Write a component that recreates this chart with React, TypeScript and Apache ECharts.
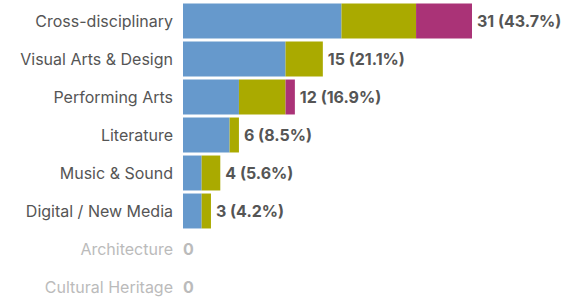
import React, { useEffect, useRef } from "react";
import * as echarts from "echarts";

const categories = [
  "Cross-disciplinary",
  "Visual Arts & Design",
  "Performing Arts",
  "Literature",
  "Music & Sound",
  "Digital / New Media",
  "Architecture",
  "Cultural Heritage",
];
const blueValues = [17, 11, 6, 5, 2, 2, 0, 0];
const oliveValues = [8, 4, 5, 1, 2, 1, 0, 0];
const magentaValues = [6, 0, 1, 0, 0, 0, 0, 0];

const colors = ["#6699CC", "#AAAA00", "#AA3377"];

export default function App() {
  const ref = useRef<HTMLDivElement>(null);
  useEffect(() => {
    if (!ref.current) return;
    const chart = echarts.init(ref.current, null, { renderer: "svg" });
    const totals = categories.map((_, i) => blueValues[i] + oliveValues[i] + magentaValues[i]);
    const grand = totals.reduce((a, b) => a + b, 0);
    const maxTotal = Math.max(...totals);
    const font = "Inter, 'Noto Sans', sans-serif";
    const mk = (name: string, data: number[], color: string) => ({
      name,
      type: "bar",
      stack: "s",
      data,
      itemStyle: { color },
      barCategoryGap: "8%",
    });
    chart.setOption({
      animation: false,
      grid: { left: 183, right: 95, top: 2, bottom: 0, containLabel: false },
      xAxis: {
        type: "value",
        min: 0,
        max: maxTotal,
        show: false,
      },
      yAxis: {
        type: "category",
        data: categories,
        inverse: true,
        axisLine: { show: false },
        axisTick: { show: false },
        axisLabel: {
          margin: 10,
          fontSize: 16,
          fontFamily: font,
          color: (_v: string, i: number) => (totals[i] === 0 ? "#BBBBBB" : "#555555"),
        },
      },
      series: [
        mk("a", blueValues, colors[0]),
        mk("b", oliveValues, colors[1]),
        mk("c", magentaValues, colors[2]),
        {
          name: "total",
          type: "bar",
          stack: "s",
          data: totals.map((t) => ({
            value: 0,
            label: { color: t === 0 ? "#BBBBBB" : "#555555", distance: t === 0 ? 0 : 5 },
          })),
          itemStyle: { color: "transparent" },
          label: {
            show: true,
            position: "right",
            distance: 5,
            fontSize: 16,
            fontWeight: "bold",
            fontFamily: font,
            formatter: (p: any) => {
              const t = totals[p.dataIndex];
              if (t === 0) return "0";
              return `${t} (${((t / grand) * 100).toFixed(1)}%)`;
            },
          },
        },
      ],
    });
    return () => chart.dispose();
  }, []);
  return (
    <div
      ref={ref}
      style={{ position: "fixed", left: 0, top: 0, width: 567, height: 306, background: "#fff" }}
    />
  );
}
